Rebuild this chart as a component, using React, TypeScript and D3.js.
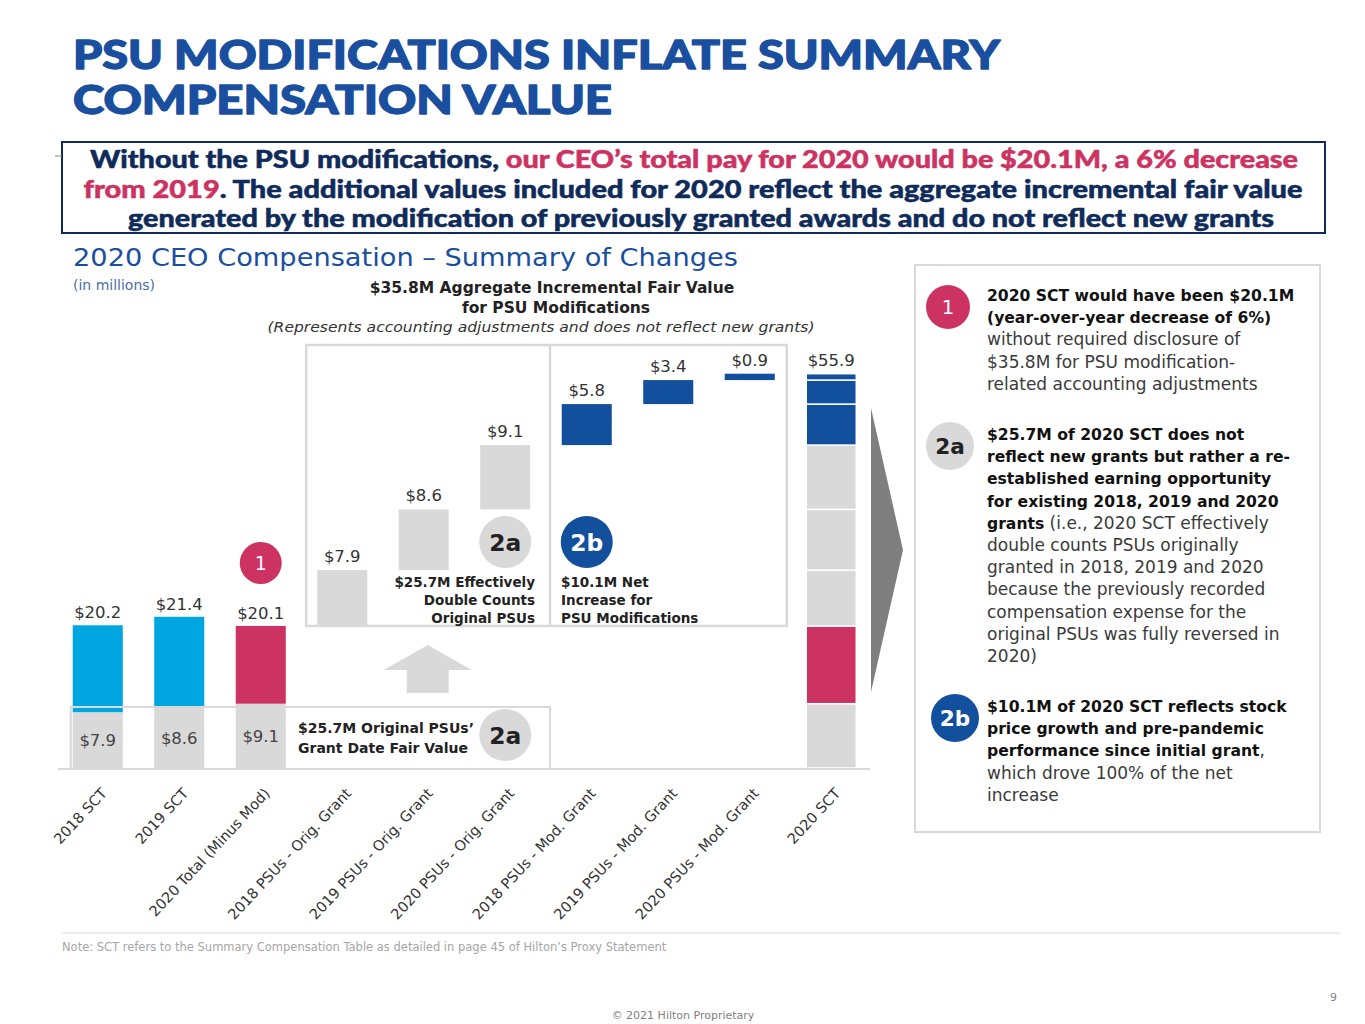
import * as d3 from 'd3'

// ---- data (USD millions) ----
const categories = [
  '2018 SCT',
  '2019 SCT',
  '2020 Total (Minus Mod)',
  '2018 PSUs - Orig. Grant',
  '2019 PSUs - Orig. Grant',
  '2020 PSUs - Orig. Grant',
  '2018 PSUs - Mod. Grant',
  '2019 PSUs - Mod. Grant',
  '2020 PSUs - Mod. Grant',
  '2020 SCT',
]
const sctTotals = [20.2, 21.4, 20.1]
const sctPsu = [7.9, 8.6, 9.1]
const origGrants = [7.9, 8.6, 9.1]
const modGrants = [5.8, 3.4, 0.9]
const total2020 = 55.9

const panelBlocks = [
  {
    badge: '1',
    lines: [
      [{ t: '2020 SCT would have been $20.1M', b: true }],
      [{ t: '(year-over-year decrease of 6%)', b: true }],
      [{ t: 'without required disclosure of', b: false }],
      [{ t: '$35.8M for PSU modification-', b: false }],
      [{ t: 'related accounting adjustments', b: false }],
    ],
  },
  {
    badge: '2a',
    lines: [
      [{ t: '$25.7M of 2020 SCT does not', b: true }],
      [{ t: 'reflect new grants but rather a re-', b: true }],
      [{ t: 'established earning opportunity', b: true }],
      [{ t: 'for existing 2018, 2019 and 2020', b: true }],
      [{ t: 'grants', b: true }, { t: ' (i.e., 2020 SCT effectively', b: false }],
      [{ t: 'double counts PSUs originally', b: false }],
      [{ t: 'granted in 2018, 2019 and 2020', b: false }],
      [{ t: 'because the previously recorded', b: false }],
      [{ t: 'compensation expense for the', b: false }],
      [{ t: 'original PSUs was fully reversed in', b: false }],
      [{ t: '2020)', b: false }],
    ],
  },
  {
    badge: '2b',
    lines: [
      [{ t: '$10.1M of 2020 SCT reflects stock', b: true }],
      [{ t: 'price growth and pre-pandemic', b: true }],
      [{ t: 'performance since initial grant', b: true }, { t: ',', b: false }],
      [{ t: 'which drove 100% of the net', b: false }],
      [{ t: 'increase', b: false }],
    ],
  },
]

const LIGHT_BLUE = '#00a6e0'
const RED = '#cc3363'
const NAVY = '#124f9d'
const GREY = '#d9d9d9'
const TITLE_BLUE = '#1a4f9f'
const DARK_NAVY = '#0f2b5a'
const TEXT = '#333333'
const BODY = "'DejaVu Sans', sans-serif"
const HEAVY = "Lato, 'Open Sans', sans-serif"

const badgeFill: Record<string, string> = { '1': RED, '2a': GREY, '2b': NAVY }
const badgeText: Record<string, string> = { '1': '#fff', '2a': '#222', '2b': '#fff' }

function Badge({ cx, cy, r, label }: { cx: number; cy: number; r: number; label: string }) {
  return (
    <g>
      <circle cx={cx} cy={cy} r={r} fill={badgeFill[label]} />
      <text
        x={cx}
        y={cy + r * 0.33}
        textAnchor="middle"
        fontFamily={BODY}
        fontWeight={label === '1' ? 400 : 700}
        fontSize={r * 0.9}
        fill={badgeText[label]}
      >
        {label}
      </text>
    </g>
  )
}

export default function App() {
  const width = 1365
  const height = 1024

  const x = d3.scaleBand<string>()
    .domain(categories)
    .range([57, 872])
    .paddingInner(0.386)
    .paddingOuter(0.193)
  const bw = x.bandwidth()
  const cx = (c: string) => (x(c) ?? 0) + bw / 2

  const y = d3.scaleLinear().domain([0, total2020]).range([768, 373])

  // waterfall floats, starting on top of the 2020 total without modifications
  const steps = [...origGrants, ...modGrants]
  let running = sctTotals[2]
  const floats = steps.map((v, i) => {
    const from = running
    running += v
    return { cat: categories[3 + i], from, to: running, v, color: i < 3 ? GREY : NAVY }
  })

  // 2020 SCT stacked from every component
  const stackParts = [
    { v: sctPsu[2], color: GREY },
    { v: sctTotals[2] - sctPsu[2], color: RED },
    ...origGrants.map(v => ({ v, color: GREY })),
    ...modGrants.map(v => ({ v, color: NAVY })),
  ]
  let acc = 0
  const stack = stackParts.map(p => {
    const from = acc
    acc += p.v
    return { ...p, from, to: acc }
  })

  const fmt = (v: number) => `$${v.toFixed(1)}`
  const boxLeft = (x(categories[3]) ?? 0) - 11
  const boxRight = (x(categories[8]) ?? 0) + bw + 12
  const boxDiv = ((x(categories[5]) ?? 0) + bw + (x(categories[6]) ?? 0)) / 2 + 4
  const arrowX = cx(categories[4]) + 4

  const lineH = 22.2
  const blockTops = [301, 440, 712]
  const badgePos = [
    { x: 948, y: 307, r: 22 },
    { x: 950, y: 446, r: 24 },
    { x: 955, y: 718, r: 24 },
  ]

  return (
    <svg
      width={width}
      height={height}
      style={{ position: 'absolute', left: 0, top: 0, background: '#fff' }}
    >
      {/* title */}
      <g fontFamily={HEAVY} fontWeight={900} fontSize={39} fill={TITLE_BLUE} stroke={TITLE_BLUE}
        strokeWidth={1.3} strokeLinejoin="round">
        <text x={73} y={69} textLength={927} lengthAdjust="spacingAndGlyphs">PSU MODIFICATIONS INFLATE SUMMARY</text>
        <text x={73} y={114} textLength={539} lengthAdjust="spacingAndGlyphs">COMPENSATION VALUE</text>
      </g>

      {/* key message box */}
      <rect x={62} y={142} width={1263} height={91} fill="none" stroke={DARK_NAVY} strokeWidth={2} />
      <line x1={55} x2={62} y1={156} y2={156} stroke="#888" strokeWidth={1} />
      <g fontFamily={HEAVY} fontWeight={900} fontSize={24} textAnchor="middle" strokeWidth={0.5}>
        <text x={694} y={168} textLength={1208} lengthAdjust="spacingAndGlyphs">
          <tspan fill={DARK_NAVY} stroke={DARK_NAVY}>Without the PSU modifications, </tspan>
          <tspan fill={RED} stroke={RED}>our CEO’s total pay for 2020 would be $20.1M, a 6% decrease</tspan>
        </text>
        <text x={693} y={198} textLength={1219} lengthAdjust="spacingAndGlyphs">
          <tspan fill={RED} stroke={RED}>from 2019</tspan>
          <tspan fill={DARK_NAVY} stroke={DARK_NAVY}>. The additional values included for 2020 reflect the aggregate incremental fair value</tspan>
        </text>
        <text x={701} y={227} textLength={1146} lengthAdjust="spacingAndGlyphs" fill={DARK_NAVY} stroke={DARK_NAVY}>
          generated by the modification of previously granted awards and do not reflect new grants
        </text>
      </g>

      {/* chart heading */}
      <text x={73} y={266} fontFamily={BODY} fontSize={24} fill={TITLE_BLUE}
        textLength={665} lengthAdjust="spacingAndGlyphs">2020 CEO Compensation – Summary of Changes</text>
      <text x={73} y={290} fontFamily={BODY} fontSize={14} fill="#4a6fa8">(in millions)</text>
      <g fontFamily={BODY} textAnchor="middle" fill="#222">
        <text x={552} y={293} fontSize={15.5} fontWeight={600}>$35.8M Aggregate Incremental Fair Value</text>
        <text x={556} y={313} fontSize={15.5} fontWeight={600}>for PSU Modifications</text>
        <text x={541} y={332} fontSize={14} fontStyle="italic" fill={TEXT}
          textLength={547} lengthAdjust="spacingAndGlyphs">(Represents accounting adjustments and does not reflect new grants)</text>
      </g>

      {/* annotation frames */}
      <rect x={boxLeft} y={345} width={boxRight - boxLeft} height={y(sctTotals[2]) - 345}
        fill="none" stroke={GREY} strokeWidth={2.5} />
      <line x1={boxDiv} x2={boxDiv} y1={345} y2={y(sctTotals[2])} stroke={GREY} strokeWidth={2.5} />

      {/* SCT bars */}
      {sctTotals.map((tot, i) => {
        const c = categories[i]
        return (
          <g key={c}>
            <rect x={x(c)} width={bw} y={y(sctPsu[i])} height={y(0) - y(sctPsu[i])} fill={GREY} />
            <rect x={x(c)} width={bw} y={y(tot)} height={y(sctPsu[i]) - y(tot)}
              fill={i < 2 ? LIGHT_BLUE : RED} />
            <text x={cx(c)} y={y(tot) - 7} textAnchor="middle" fontFamily={BODY} fontSize={16.5}
              fill={TEXT}>{fmt(tot)}</text>
            <text x={cx(c)} y={y(sctPsu[i] / 2) + 6} textAnchor="middle" fontFamily={BODY}
              fontSize={16.5} fill="#444">{fmt(sctPsu[i])}</text>
          </g>
        )
      })}

      {/* floating waterfall steps */}
      {floats.map(f => (
        <g key={f.cat}>
          <rect x={x(f.cat)} width={bw} y={y(f.to)} height={Math.max(1, y(f.from) - y(f.to))} fill={f.color} />
          <text x={cx(f.cat)} y={y(f.to) - 8} textAnchor="middle" fontFamily={BODY} fontSize={16.5}
            fill={TEXT}>{fmt(f.v)}</text>
        </g>
      ))}

      {/* 2020 SCT stacked */}
      {stack.map((s, i) => (
        <rect key={i} x={x(categories[9])} width={bw} y={y(s.to)} height={y(s.from) - y(s.to)}
          fill={s.color} stroke="#fff" strokeWidth={1.5} />
      ))}
      <text x={cx(categories[9])} y={y(total2020) - 7} textAnchor="middle" fontFamily={BODY}
        fontSize={16.5} fill={TEXT}>{fmt(total2020)}</text>

      {/* lower frame for original PSU value */}
      <path d={`M${x(categories[0])! - 2},${y(0)} V707 H${boxDiv} V${y(0)}`} fill="none" stroke={GREY}
        strokeWidth={2} />

      {/* axis */}
      <line x1={58} x2={870} y1={y(0) + 1} y2={y(0) + 1} stroke={GREY} strokeWidth={2} />
      {categories.map(c => (
        <text key={c} transform={`translate(${cx(c) + 10},794) rotate(-47)`} textAnchor="end"
          fontFamily={BODY} fontSize={14.5} fill={TEXT}>{c}</text>
      ))}

      {/* up arrow */}
      <path
        d={`M${arrowX},645 L${arrowX + 44},670 L${arrowX + 21},670 L${arrowX + 21},693 L${arrowX - 21},693 L${arrowX - 21},670 L${arrowX - 44},670 Z`}
        fill={GREY}
      />

      {/* in-chart labels */}
      <g fontFamily={BODY} fontWeight={700} fontSize={13.5} fill="#222">
        <text x={535} y={587} textAnchor="end">$25.7M Effectively</text>
        <text x={535} y={605} textAnchor="end">Double Counts</text>
        <text x={535} y={623} textAnchor="end">Original PSUs</text>
        <text x={561} y={587}>$10.1M Net</text>
        <text x={561} y={605}>Increase for</text>
        <text x={561} y={623}>PSU Modifications</text>
        <text x={298} y={733} fontSize={14}>$25.7M Original PSUs’</text>
        <text x={298} y={753} fontSize={14}>Grant Date Fair Value</text>
      </g>
      <Badge cx={cx(categories[2])} cy={563} r={21} label="1" />
      <Badge cx={cx(categories[5])} cy={542} r={26} label="2a" />
      <Badge cx={cx(categories[6])} cy={542} r={26} label="2b" />
      <Badge cx={cx(categories[5])} cy={735} r={26} label="2a" />

      {/* big arrow to the explanation panel */}
      <path d="M871,408 L903,550 L871,692 Z" fill="#7f7f7f" />

      {/* explanation panel */}
      <rect x={915} y={265} width={405} height={567} fill="none" stroke={GREY} strokeWidth={2} />
      {panelBlocks.map((blk, bi) => (
        <g key={blk.badge}>
          <Badge cx={badgePos[bi].x} cy={badgePos[bi].y} r={badgePos[bi].r} label={blk.badge} />
          {blk.lines.map((ln, li) => (
            <text key={li} x={987} y={blockTops[bi] + li * lineH} fontFamily={BODY} fontSize={17}
              fill="#222">
              {ln.map((seg, si) => (
                <tspan key={si} fontWeight={seg.b ? 700 : 400} fontSize={seg.b ? 15.6 : 17}
                  fill={seg.b ? '#111' : '#3a3a3a'}>{seg.t}</tspan>
              ))}
            </text>
          ))}
        </g>
      ))}

      {/* footer */}
      <line x1={62} x2={1340} y1={933} y2={933} stroke={GREY} strokeWidth={1} />
      <text x={62} y={951} fontFamily={BODY} fontSize={11.5} fill="#a6a6a6">
        Note: SCT refers to the Summary Compensation Table as detailed in page 45 of Hilton’s Proxy Statement
      </text>
      <text x={1337} y={1001} textAnchor="end" fontFamily={BODY} fontSize={11} fill="#7f7f7f">9</text>
      <text x={683} y={1019} textAnchor="middle" fontFamily={BODY} fontSize={11} fill="#7f7f7f">
        © 2021 Hilton Proprietary
      </text>
    </svg>
  )
}
